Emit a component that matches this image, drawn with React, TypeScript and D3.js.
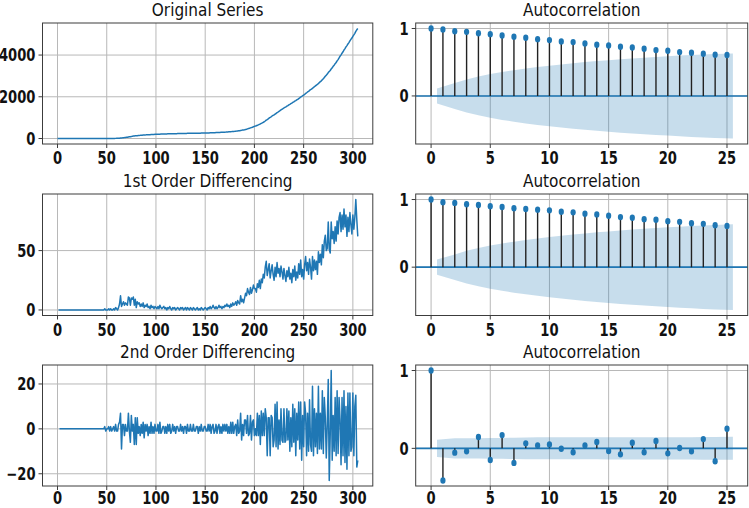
import React from "react";
import * as d3 from "d3";

const W = 749;
const H = 508;

// ---------- DATA ----------
// 1st order differences of the original series (index 1..305)
const firstDiff: number[] = [
  // 1-47
  0, 0, 0, 0, 0, 0, 0, 0, 0, 0, 0, 0, 0, 0, 0, 0, 0, 0, 0, 0, 0, 0, 0, 0, 0, 0, 0, 0, 0, 0,
  0, 0, 0, 0, 0, 0, 0, 0, 0, 0, 0, 0, 0, 0, 0, 0, 0,
  // 48-63
  1, 0, 0, 0, 1, 0, 1, 0, 0, 1, 0, 2, 1, 0, 2, 5,
  // 64-100
  12, 3, 5, 7, 4, 6, 5, 4, 11, 10, 4, 10, 9, 11, 4, 9, 2, 7, 5, 6, 3, 5, 3, 6, 2, 4, 3, 5, 2, 3,
  1, 4, 2, 3, 1, 3, 2,
  // 101-150
  1, 3, 1, 4, 2, 1, 2, 3, 1, 2, 0, 2, 1, 3, 1, 0, 2, 1, 2, 0, 1, 2, 1, 0, 2, 1, 2, 0, 1, 2,
  0, 2, 1, 0, 2, 1, 0, 2, 1, 0, 1, 2, 0, 1, 0, 2, 1, 0, 1, 2,
  // 151-190
  1, 0, 2, 1, 3, 1, 2, 4, 2, 1, 3, 1, 2, 4, 2, 3, 1, 3, 2, 4, 3, 5, 3, 4, 2, 5, 3, 6, 4, 5,
  7, 4, 8, 6, 5, 12, 7, 9, 6, 10,
  // 191-200
  14, 12, 18, 15, 13, 19, 14, 17, 21, 18,
  // 201-250
  18, 15, 22, 19, 25, 18, 26, 23, 30, 27, 36, 41, 29, 34, 39, 27, 33, 38, 30, 25,
  36, 28, 40, 31, 35, 28, 37, 32, 26, 35, 29, 24, 33, 28, 36, 26, 31, 23, 34, 28,
  37, 25, 32, 27, 39, 30, 42, 28, 34, 26,
  // 251-263
  38, 45, 33, 40, 30, 43, 36, 26, 45, 33, 42, 34, 41,
  // 264-278
  30, 49, 40, 47, 38, 55, 44, 58, 63, 50, 52, 74, 51, 48, 74,
  // 279-305
  60, 66, 56, 70, 58, 75, 64, 78, 82, 66, 80, 68, 85, 70, 80, 62, 78, 66, 82, 72, 64, 80, 68, 78,
  93, 76, 62,
];
const ORIGINAL_START = 0;

// autocorrelation values, lags 0..25
const acfOriginal = [
  1, 0.985, 0.96, 0.95, 0.93, 0.916, 0.897, 0.877, 0.862, 0.842, 0.828, 0.808, 0.798, 0.778,
  0.759, 0.749, 0.729, 0.719, 0.7, 0.68, 0.67, 0.65, 0.64, 0.626, 0.611, 0.606,
];
const acfFirst = [
  1, 0.96, 0.95, 0.93, 0.92, 0.9, 0.89, 0.87, 0.86, 0.85, 0.84, 0.82, 0.81, 0.79, 0.78, 0.76,
  0.74, 0.73, 0.71, 0.7, 0.68, 0.67, 0.65, 0.64, 0.62, 0.61,
];
const acfSecond = [
  1, -0.413, -0.055, -0.038, 0.145, -0.149, 0.17, -0.187, 0.064, 0.038, 0.051, -0.005, -0.051,
  0.038, 0.081, -0.034, -0.077, 0.072, -0.051, 0.094, -0.064, 0.004, -0.038, 0.119, -0.166,
  0.251,
];
// confidence band half-widths, lags 1..25
const confOriginal = [
  0.112, 0.192, 0.245, 0.288, 0.324, 0.355, 0.382, 0.407, 0.429, 0.449, 0.468, 0.486, 0.502,
  0.517, 0.531, 0.544, 0.556, 0.568, 0.578, 0.588, 0.598, 0.607, 0.615, 0.623, 0.631,
];
const confFirst = [
  0.112, 0.189, 0.242, 0.283, 0.319, 0.349, 0.377, 0.401, 0.424, 0.445, 0.464, 0.482, 0.499,
  0.515, 0.529, 0.543, 0.555, 0.567, 0.578, 0.589, 0.599, 0.608, 0.617, 0.625, 0.633,
];
const confSecond = [
  0.112, 0.13, 0.13, 0.13, 0.132, 0.134, 0.137, 0.14, 0.141, 0.141, 0.141, 0.141, 0.141, 0.141,
  0.142, 0.142, 0.143, 0.143, 0.143, 0.144, 0.144, 0.144, 0.145, 0.146, 0.148,
];

const seriesTitles = ["Original Series", "1st Order Differencing", "2nd Order Differencing"];
const acfTitle = "Autocorrelation";
const seriesXTicks = [0, 50, 100, 150, 200, 250, 300];
const acfXTicks = [0, 5, 10, 15, 20, 25];
const seriesYTicks = [
  [0, 2000, 4000],
  [0, 50],
  [-20, 0, 20],
];
const acfYTicks = [0, 1];

// ---------- derived series ----------
type Pt = [number, number];
const originalVals = [ORIGINAL_START, ...Array.from(d3.cumsum(firstDiff), (v) => v + ORIGINAL_START)];
const originalPts: Pt[] = originalVals.map((v, i) => [i, v]);
const firstPts: Pt[] = firstDiff.map((v, i) => [i + 1, v]);
const secondPts: Pt[] = d3.pairs(firstDiff).map(([a, b], i) => [i + 2, b - a]);

// ---------- layout ----------
const ROW_TOP = [23, 194, 365];
const ROW_BOT = [144, 315.5, 486];
const X_LABEL_OFFSET = [20, 20, 17.5];
const LEFT_X: [number, number] = [42.5, 372.8];
const RIGHT_X: [number, number] = [415.7, 747.7];

const BLUE = "#1f77b4";
const GRID = "#b8b8b8";
const SPINE = "#3c3c3c";
const FONT = "DejaVu Sans";
const TICK_SIZE = 17.5;
const TICK_SX = 0.75;

const pad = (lo: number, hi: number): [number, number] => {
  const m = (hi - lo) * 0.05;
  return [lo - m, hi + m];
};

function Label(props: {
  x: number;
  y: number;
  anchor: "start" | "middle" | "end";
  sx: number;
  size: number;
  weight?: string | number;
  children: React.ReactNode;
}) {
  const { x, y, anchor, sx, size, weight, children } = props;
  return (
    <text
      transform={`translate(${x},${y}) scale(${sx},1)`}
      textAnchor={anchor}
      fontSize={size}
      fontWeight={weight ?? "normal"}
      fontFamily={FONT}
      fill="#111"
    >
      {children}
    </text>
  );
}

function Frame(props: {
  id: string;
  row: number;
  xr: [number, number];
  x: d3.ScaleLinear<number, number>;
  y: d3.ScaleLinear<number, number>;
  xTicks: number[];
  yTicks: number[];
  title: string;
  children: React.ReactNode;
}) {
  const { id, row, xr, x, y, xTicks, yTicks, title, children } = props;
  const top = ROW_TOP[row];
  const bot = ROW_BOT[row];
  const TICK = 4;
  return (
    <g>
      <defs>
        <clipPath id={id}>
          <rect x={xr[0]} y={top} width={xr[1] - xr[0]} height={bot - top} />
        </clipPath>
      </defs>
      <rect x={xr[0]} y={top} width={xr[1] - xr[0]} height={bot - top} fill="#fff" />
      {xTicks.map((t) => (
        <line key={"gx" + t} x1={x(t)} x2={x(t)} y1={top} y2={bot} stroke={GRID} strokeWidth={1} />
      ))}
      {yTicks.map((t) => (
        <line key={"gy" + t} x1={xr[0]} x2={xr[1]} y1={y(t)} y2={y(t)} stroke={GRID} strokeWidth={1} />
      ))}
      <g clipPath={`url(#${id})`}>{children}</g>
      <rect
        x={xr[0]}
        y={top}
        width={xr[1] - xr[0]}
        height={bot - top}
        fill="none"
        stroke={SPINE}
        strokeWidth={1}
      />
      {xTicks.map((t) => (
        <g key={"tx" + t}>
          <line x1={x(t)} x2={x(t)} y1={bot} y2={bot + TICK} stroke={SPINE} strokeWidth={1} />
          <Label
            x={x(t)}
            y={bot + X_LABEL_OFFSET[row]}
            anchor="middle"
            sx={TICK_SX}
            size={TICK_SIZE}
            weight="bold"
          >
            {String(t).replace("-", "\u2212")}
          </Label>
        </g>
      ))}
      {yTicks.map((t) => (
        <g key={"ty" + t}>
          <line x1={xr[0] - TICK} x2={xr[0]} y1={y(t)} y2={y(t)} stroke={SPINE} strokeWidth={1} />
          <Label x={xr[0] - 7} y={y(t) + 6.3} anchor="end" sx={TICK_SX} size={TICK_SIZE} weight="bold">
            {String(t).replace("-", "\u2212")}
          </Label>
        </g>
      ))}
      <Label x={(xr[0] + xr[1]) / 2} y={top - 7} anchor="middle" sx={0.9} size={17}>
        {title}
      </Label>
    </g>
  );
}

function SeriesPanel(props: { row: number; pts: Pt[] }) {
  const { row, pts } = props;
  const top = ROW_TOP[row];
  const bot = ROW_BOT[row];
  const x = d3.scaleLinear().domain([-15.25, 320.25]).range(LEFT_X);
  const [lo, hi] = d3.extent(pts, (p) => p[1]) as [number, number];
  const y = d3.scaleLinear().domain(pad(lo, hi)).range([bot, top]);
  const line = d3
    .line<Pt>()
    .x((p) => x(p[0]))
    .y((p) => y(p[1]));
  return (
    <Frame
      id={"cs" + row}
      row={row}
      xr={LEFT_X}
      x={x}
      y={y}
      xTicks={seriesXTicks}
      yTicks={seriesYTicks[row]}
      title={seriesTitles[row]}
    >
      <path d={line(pts) ?? ""} fill="none" stroke={BLUE} strokeWidth={1.5} strokeLinejoin="round" />
    </Frame>
  );
}

function AcfPanel(props: { row: number; acf: number[]; conf: number[] }) {
  const { row, acf, conf } = props;
  const top = ROW_TOP[row];
  const bot = ROW_BOT[row];
  const x = d3.scaleLinear().domain([-1.3, 26.75]).range(RIGHT_X);
  const lo = Math.min(d3.min(acf) as number, -(d3.max(conf) as number));
  const hi = Math.max(d3.max(acf) as number, d3.max(conf) as number);
  const y = d3.scaleLinear().domain(pad(lo, hi)).range([bot, top]);
  const bandPts = conf.map((c, i) => {
    const lag = i + 1;
    const lx = i === 0 ? lag - 0.5 : i === conf.length - 1 ? lag + 0.5 : lag;
    return { lx, c };
  });
  const area = d3
    .area<{ lx: number; c: number }>()
    .x((d) => x(d.lx))
    .y0((d) => y(-d.c))
    .y1((d) => y(d.c));
  return (
    <Frame
      id={"ca" + row}
      row={row}
      xr={RIGHT_X}
      x={x}
      y={y}
      xTicks={acfXTicks}
      yTicks={acfYTicks}
      title={acfTitle}
    >
      <path d={area(bandPts) ?? ""} fill={BLUE} fillOpacity={0.25} stroke="none" />
      <line x1={RIGHT_X[0]} x2={RIGHT_X[1]} y1={y(0)} y2={y(0)} stroke={BLUE} strokeWidth={1.6} />
      {acf.map((v, lag) => (
        <line
          key={"s" + lag}
          x1={x(lag)}
          x2={x(lag)}
          y1={y(0)}
          y2={y(v)}
          stroke="#222"
          strokeWidth={1.4}
        />
      ))}
      {acf.map((v, lag) => (
        <ellipse key={"m" + lag} cx={x(lag)} cy={y(v)} rx={2.6} ry={3.2} fill={BLUE} />
      ))}
    </Frame>
  );
}

export default function App() {
  return (
    <svg
      width={W}
      height={H}
      viewBox={`0 0 ${W} ${H}`}
      style={{ position: "absolute", left: 0, top: 0, background: "#fff" }}
    >
      <rect x={0} y={0} width={W} height={H} fill="#fff" />
      <SeriesPanel row={0} pts={originalPts} />
      <SeriesPanel row={1} pts={firstPts} />
      <SeriesPanel row={2} pts={secondPts} />
      <AcfPanel row={0} acf={acfOriginal} conf={confOriginal} />
      <AcfPanel row={1} acf={acfFirst} conf={confFirst} />
      <AcfPanel row={2} acf={acfSecond} conf={confSecond} />
    </svg>
  );
}
